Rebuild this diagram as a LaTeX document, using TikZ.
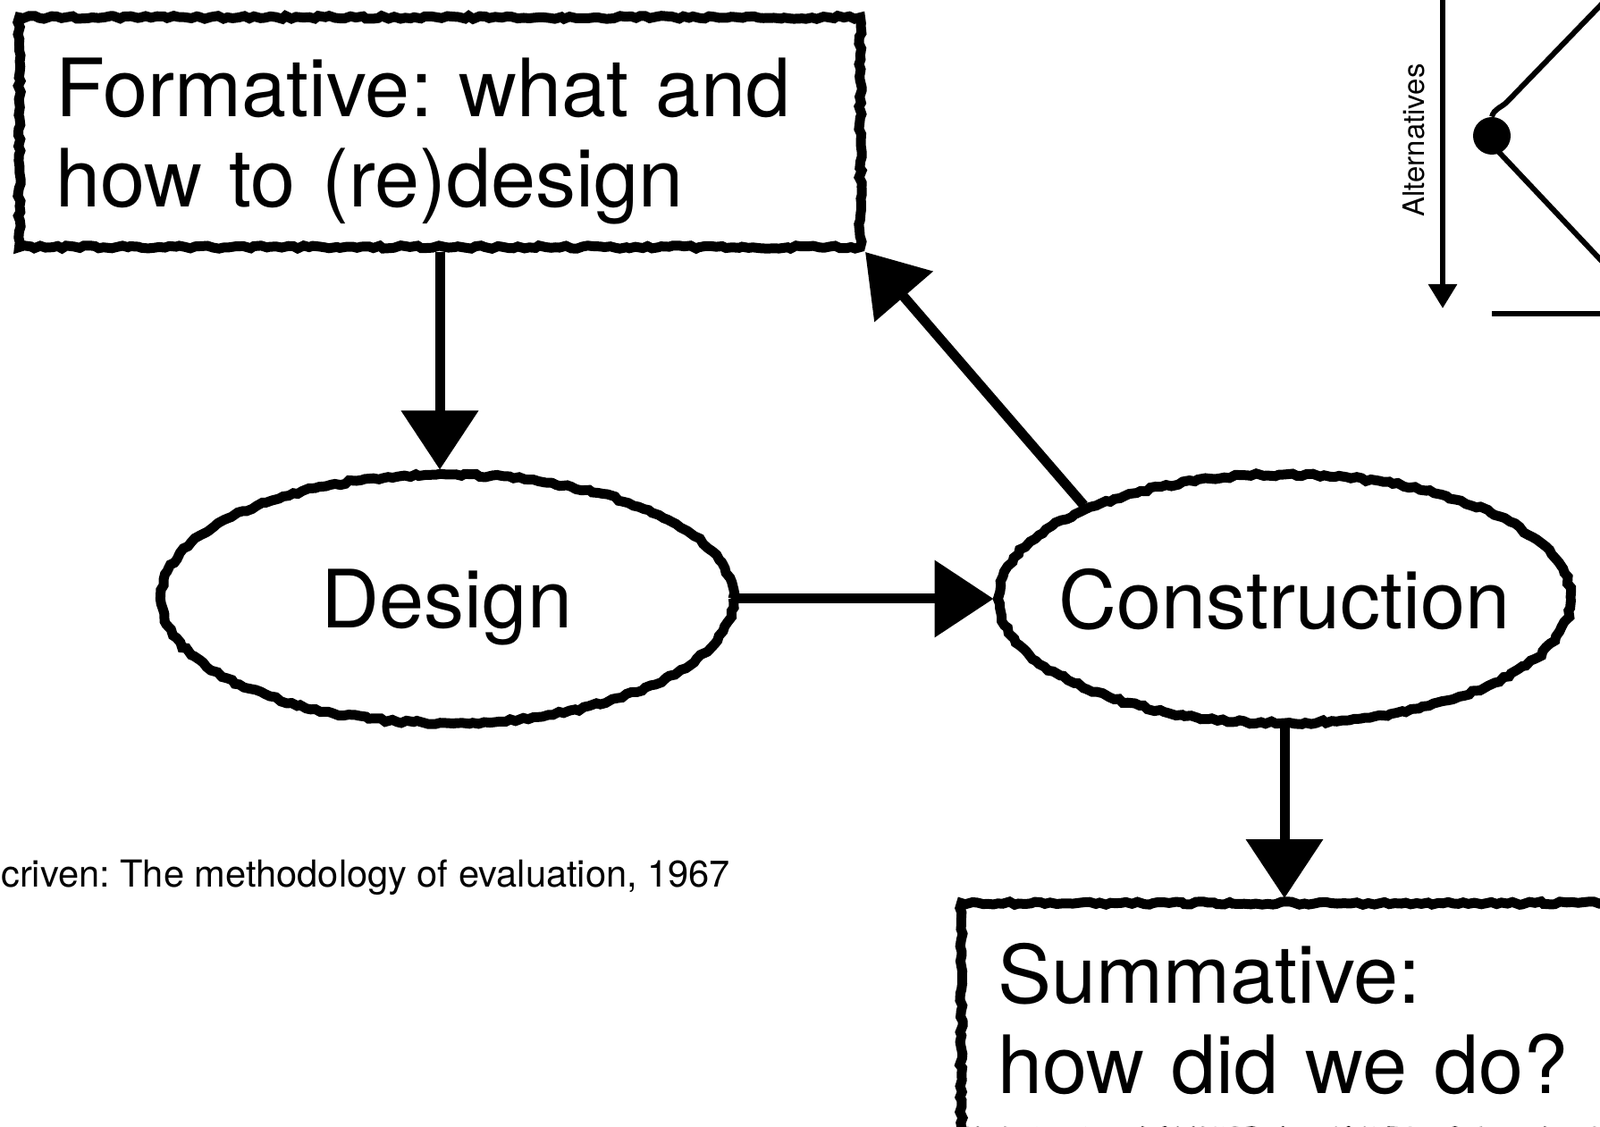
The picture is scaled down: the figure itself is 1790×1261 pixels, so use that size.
\documentclass[tikz,border=0pt]{standalone}
\usepackage{fontspec}
\setmainfont{TeX Gyre Heros}
\frenchspacing
\usetikzlibrary{positioning, arrows.meta, shapes.geometric, decorations.pathmorphing}

\begin{document}
\begin{tikzpicture}[x=0.5pt, y=-0.5pt,
    rough/.style={line width=5.5pt, decorate, decoration={random steps, segment length=3pt, amplitude=0.9pt}},
    box/.style={draw, rough, rectangle, align=left, anchor=north west, text width=429.5pt, inner xsep=20.5pt, inner ysep=0pt, minimum height=128.5pt, text depth=50.5pt, font=\fontsize{45}{50.5}\selectfont},
    blob/.style={draw, rough, ellipse, inner xsep=-15pt, inner ysep=0pt, minimum width=320pt, minimum height=139pt, text depth=0pt, font=\fontsize{45}{54}\selectfont},
    flow/.style={line width=5.5pt, -{Triangle[length=33pt, width=42pt]}},
    inset/.style={line width=3pt}]
    \useasboundingbox (0,0) rectangle (1790,1261);

    % evaluation cycle
    \node (form) [box] at (16,14) {Formative: what and\\how to (re)design};
    \node (design) [blob] at (500,670) {Design};
    \node (constr) [blob] at (1437,670) {Construction};
    \node (summ) [box] at (1070,1005) {Summative:\\how did we do?};
    \node (cite) [anchor=base east, font=\fontsize{20.8}{25}\selectfont] at (824,993) {criven: The methodology of evaluation, 1967};

    \draw [flow] (form.south) -- (form.south |- design.north);
    \draw [flow] (design) -- (constr);
    \draw [flow] (constr.155) -- (form.south east);
    \draw [flow] (constr.south) -- (constr.south |- summ.north);

    % corner of the alternatives plot
    \node (dot) [circle, fill, inner sep=0pt, minimum size=21pt] at (1669,152) {};
    \node (alt) [rotate=90, font=\fontsize{16.5}{20}\selectfont] at (1582,157) {Alternatives};
    \coordinate (alttop) at (1614,-10);
    \coordinate (altend) at (1614,345);
    \coordinate (upbend) at (1686,114);
    \coordinate (upend) at (1805,-9);
    \coordinate (lowstart) at (1672,165);
    \coordinate (lowend) at (1805,306);
    \coordinate (baseL) at (1669,351);
    \coordinate (baseR) at (1805,351);
    \draw [inset, -{Triangle[length=13.5pt, width=15.5pt]}] (alttop) -- (altend);
    \draw [inset] (dot.north) to[out=75, in=225] (upbend) -- (upend);
    \draw [inset] (lowstart) -- (lowend);
    \draw [inset] (baseL) -- (baseR);
\end{tikzpicture}
\end{document}
